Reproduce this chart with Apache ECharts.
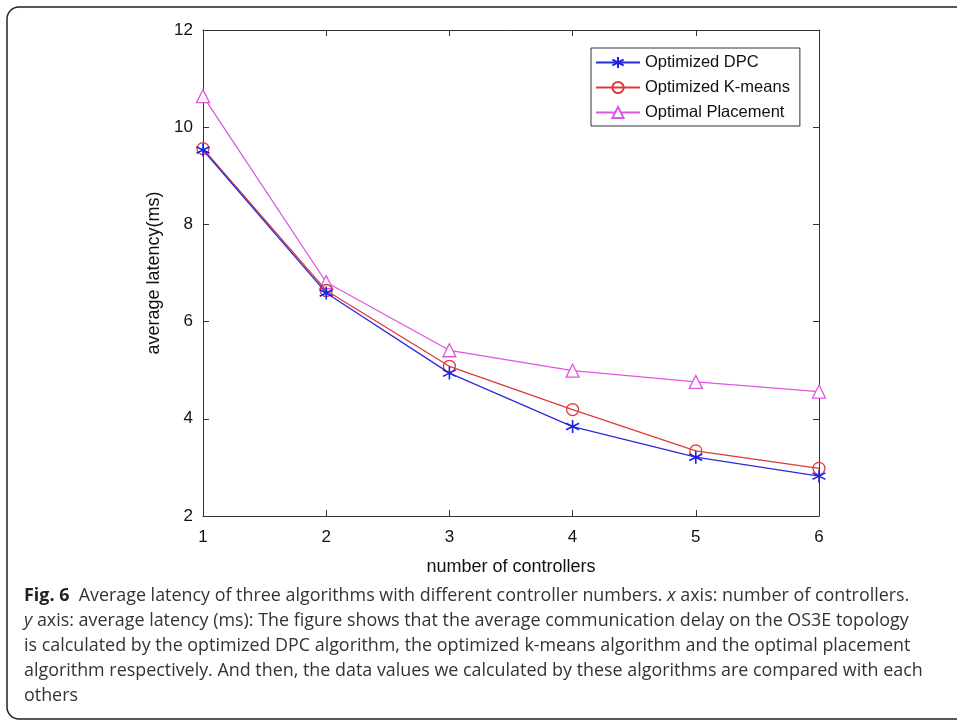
<!DOCTYPE html>
<html>
<head>
<meta charset="utf-8">
<script src="https://cdn.jsdelivr.net/npm/echarts@6/dist/echarts.min.js"></script>
<style>
  html, body { margin: 0; padding: 0; background: #fff; }
  #main { width: 957px; height: 720px; }
</style>
</head>
<body>
<div id="main"></div>
<script>
var chartDom = document.getElementById('main');
var myChart = echarts.init(chartDom);

// number of controllers
const controllers = [1, 2, 3, 4, 5, 6];
const dpcLatency = [9.53, 6.59, 4.94, 3.84, 3.21, 2.82];
const kmeansLatency = [9.56, 6.64, 5.08, 4.19, 3.34, 2.98];
const optimalLatency = [10.64, 6.81, 5.41, 4.99, 4.76, 4.56];
const seriesNames = ['Optimized DPC', 'Optimized K-means', 'Optimal Placement'];

const captionLines = [
  '{b|Fig. 6}  Average latency of three algorithms with different controller numbers. {i|x} axis: number of controllers.',
  '{i|y} axis: average latency (ms): The figure shows that the average communication delay on the OS3E topology',
  'is calculated by the optimized DPC algorithm, the optimized k-means algorithm and the optimal placement',
  'algorithm respectively. And then, the data values we calculated by these algorithms are compared with each',
  'others'
];

const asterisk = 'path://M0,-10L0,10M-8.66,-5L8.66,5M-8.66,5L8.66,-5';
const axisFont = 'Liberation Sans';

function toPoints(values) {
  return controllers.map((c, i) => [c, values[i]]);
}

const captionText = captionLines.map((line, i) => ({
  type: 'text',
  left: 24,
  top: 587 + i * 25,
  style: {
    text: line,
    font: '17.9px "Open Sans"',
    fill: '#333',
    rich: {
      b: { fontWeight: 'bold', fontSize: 17.9, fontFamily: 'Open Sans', fill: '#222' },
      i: { fontStyle: 'italic', fontSize: 17.9, fontFamily: 'Open Sans', fill: '#333' }
    }
  }
}));

var option = {
  animation: false,
  backgroundColor: '#fff',
  textStyle: { fontFamily: axisFont },
  graphic: [
    {
      type: 'rect',
      shape: { x: 7, y: 7, width: 1000, height: 712, r: 12 },
      style: { fill: 'none', stroke: '#222', lineWidth: 1.5 },
      z: 0
    }
  ].concat(captionText),
  legend: {
    orient: 'vertical',
    left: 591,
    top: 48,
    padding: [6, 10, 5, 4],
    itemWidth: 44,
    itemHeight: 14,
    itemGap: 8,
    backgroundColor: '#fff',
    borderColor: '#333',
    borderWidth: 1,
    borderRadius: 0,
    textStyle: { fontFamily: axisFont, fontSize: 16.5, color: '#111' },
    data: seriesNames
  },
  grid: { left: 203, right: 138, top: 30, bottom: 204 },
  xAxis: [
    {
      type: 'value', min: 1, max: 6, interval: 1,
      name: 'number of controllers', nameLocation: 'middle', nameGap: 42,
      nameTextStyle: { fontFamily: axisFont, fontSize: 18, color: '#111' },
      axisLine: { lineStyle: { color: '#333', width: 1 } },
      axisTick: { inside: true, length: 6, lineStyle: { color: '#333' } },
      axisLabel: { margin: 13, fontSize: 17, color: '#111', fontFamily: axisFont },
      splitLine: { show: false }
    },
    {
      type: 'value', position: 'top', min: 1, max: 6, interval: 1,
      axisLine: { lineStyle: { color: '#333', width: 1 } },
      axisTick: { inside: true, length: 6, lineStyle: { color: '#333' } },
      axisLabel: { show: false },
      splitLine: { show: false }
    }
  ],
  yAxis: [
    {
      type: 'value', min: 2, max: 12, interval: 2,
      name: 'average latency(ms)', nameLocation: 'middle', nameGap: 35,
      nameTextStyle: { fontFamily: axisFont, fontSize: 18, color: '#111' },
      axisLine: { show: true, lineStyle: { color: '#333', width: 1 } },
      axisTick: { show: true, inside: true, length: 6, lineStyle: { color: '#333' } },
      axisLabel: { margin: 10, fontSize: 17, color: '#111', fontFamily: axisFont },
      splitLine: { show: false }
    },
    {
      type: 'value', position: 'right', min: 2, max: 12, interval: 2,
      axisLine: { show: true, lineStyle: { color: '#333', width: 1 } },
      axisTick: { show: true, inside: true, length: 6, lineStyle: { color: '#333' } },
      axisLabel: { show: false },
      splitLine: { show: false }
    }
  ],
  series: [
    {
      name: seriesNames[2],
      type: 'line',
      data: toPoints(optimalLatency),
      symbol: 'triangle',
      symbolSize: 13,
      lineStyle: { color: '#e055e0', width: 1.3 },
      itemStyle: { color: '#fff', borderColor: '#e055e0', borderWidth: 1.3 },
      z: 2
    },
    {
      name: seriesNames[1],
      type: 'line',
      data: toPoints(kmeansLatency),
      symbol: 'circle',
      symbolSize: 12,
      lineStyle: { color: '#dd3b3b', width: 1.3 },
      itemStyle: { color: 'rgba(255,255,255,0)', borderColor: '#dd3b3b', borderWidth: 1.3 },
      z: 3
    },
    {
      name: seriesNames[0],
      type: 'line',
      data: toPoints(dpcLatency),
      symbol: asterisk,
      symbolSize: 13,
      lineStyle: { color: '#2b2bd8', width: 1.3 },
      itemStyle: { color: 'none', borderColor: '#2020e0', borderWidth: 1.6 },
      z: 4
    }
  ]
};

option && myChart.setOption(option);
</script>
</body>
</html>
